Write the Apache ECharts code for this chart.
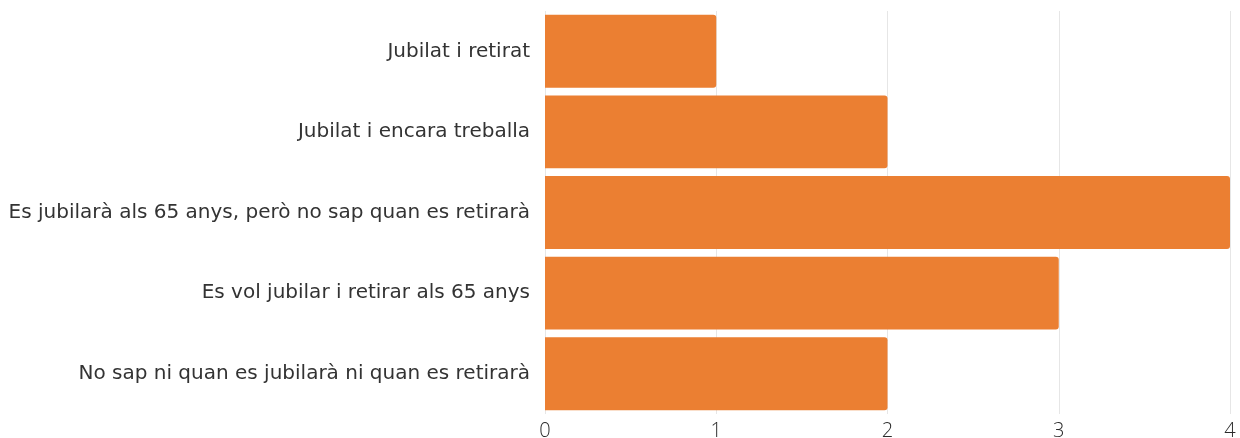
<!DOCTYPE html>
<html lang="ca">
<head>
    <meta charset="UTF-8">
    <title>Jubilació</title>
    <style>
        html, body { margin: 0; padding: 0; background: #fff; }
        .chart { width: 1240px; height: 438px; }
    </style>
</head>
<body>
<div class="chart" id="showData"></div>
<script src="https://cdn.jsdelivr.net/npm/echarts@6/dist/echarts.min.js"></script>
<script>
    // categories top to bottom
    var categories = [
        'Jubilat i retirat',
        'Jubilat i encara treballa',
        'Es jubilarà als 65 anys, però no sap quan es retirarà',
        'Es vol jubilar i retirar als 65 anys',
        'No sap ni quan es jubilarà ni quan es retirarà'
    ];
    var values = [1, 2, 4, 3, 2];
    var xTicks = [0, 1, 2, 3, 4];

    var mychart = echarts.init(document.getElementById('showData'));

    var option = {
        animation: false,
        grid: {
            left: 545,
            right: 10,
            top: 11,
            height: 403,
            containLabel: false,
            outerBoundsMode: 'none'
        },
        xAxis: {
            type: 'value',
            min: xTicks[0],
            max: xTicks[xTicks.length - 1],
            interval: 1,
            axisLine: { show: false },
            axisTick: { show: false },
            splitLine: { lineStyle: { color: '#e6e6e6', width: 1 } },
            axisLabel: {
                margin: 7,
                color: '#2b2b2b',
                fontFamily: 'Open Sans',
                fontSize: 20,
                fontWeight: 300
            }
        },
        yAxis: {
            type: 'category',
            inverse: true,
            data: categories,
            axisLine: { show: false },
            axisTick: { show: false },
            axisLabel: {
                margin: 15,
                color: '#333',
                fontFamily: 'DejaVu Sans',
                fontSize: 20
            }
        },
        series: [{
            type: 'bar',
            data: values,
            barCategoryGap: '9.5%',
            itemStyle: {
                color: '#eb7f32',
                borderRadius: [0, 3, 3, 0]
            }
        }]
    };

    mychart.setOption(option);
</script>
</body>
</html>
